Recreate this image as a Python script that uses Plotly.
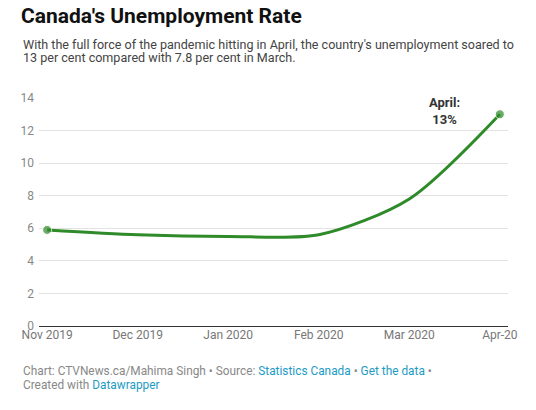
import plotly.graph_objects as go

# Data
months = ["Nov 2019", "Dec 2019", "Jan 2020", "Feb 2020", "Mar 2020", "Apr-20"]
rate = [5.9, 5.6, 5.5, 5.6, 7.8, 13.0]
y_ticks = [0, 2, 4, 6, 8, 10, 12, 14]

GREEN = "#2f8a2a"
GREY = "#888888"
LINK = "#1d9bc4"

# the page body adds an 8px offset, so the layout is shifted back by that much
OFF = 8

fig = go.Figure()

# main line, dots only on the first and last points
fig.add_trace(go.Scatter(
    x=list(range(len(months))), y=rate,
    mode="lines+markers",
    line=dict(color=GREEN, width=3, shape="spline", smoothing=0.8),
    marker=dict(color=GREEN, size=[9, 0, 0, 0, 0, 9]),
    hoverinfo="skip", showlegend=False,
))

# label on the last point
fig.add_annotation(
    x=len(months) - 1.61, y=rate[-1] + 0.23, text="<b>April:<br>13%</b>",
    showarrow=False, xanchor="center", yanchor="middle",
    font=dict(size=13, color="#333333"), bgcolor="white", borderpad=2,
)

# subtitle, one annotation per line for tighter leading
sub_lines = [
    "With the full force of the pandemic hitting in April, the country's unemployment soared to",
    "13 per cent compared with 7.8 per cent in March.",
]
for txt, yy in zip(sub_lines, [1.236, 1.178]):
    fig.add_annotation(
        xref="paper", yref="paper", x=-0.0385, y=yy, xanchor="left", yanchor="middle",
        showarrow=False, text=txt, font=dict(size=12.55, color="#444444"),
    )

# footer
foot_lines = [
    f"Chart: CTVNews.ca/Mahima Singh • Source: <span style='color:{LINK}'>Statistics Canada</span> • "
    f"<span style='color:{LINK}'>Get the data</span> •",
    f"Created with <span style='color:{LINK}'>Datawrapper</span>",
]
for txt, yy in zip(foot_lines, [-0.197, -0.257]):
    fig.add_annotation(
        xref="paper", yref="paper", x=-0.0385, y=yy, xanchor="left", yanchor="middle",
        showarrow=False, text=txt, font=dict(size=11.85, color=GREY),
    )

fig.update_layout(
    width=536, height=410,
    margin=dict(l=39 - OFF, r=28 + OFF, t=98 - OFF, b=84 + OFF, autoexpand=False),
    paper_bgcolor="white", plot_bgcolor="white",
    font=dict(family="Roboto", size=12, color=GREY),
    title=dict(text="<b>Canada's Unemployment Rate</b>", xref="container", yref="container",
               x=(21 - OFF) / 536, y=1 - (16 - OFF) / 410, xanchor="left", yanchor="middle",
               font=dict(size=21, color="#111111")),
    xaxis=dict(
        range=[-0.09, 5.09], tickvals=list(range(len(months))), ticktext=months,
        showgrid=False, zeroline=False, showline=False, ticks="", automargin=False,
        tickfont=dict(size=12, color="#777777"), fixedrange=True,
    ),
    yaxis=dict(
        range=[0, 14], tickvals=y_ticks, showgrid=True, gridcolor="#e3e3e3", gridwidth=1,
        zeroline=True, zerolinecolor="#333333", zerolinewidth=1, showline=False, automargin=False,
        ticks="", ticklabelstandoff=4, tickfont=dict(size=12, color=GREY), fixedrange=True,
    ),
)

fig.write_html("out.html")
